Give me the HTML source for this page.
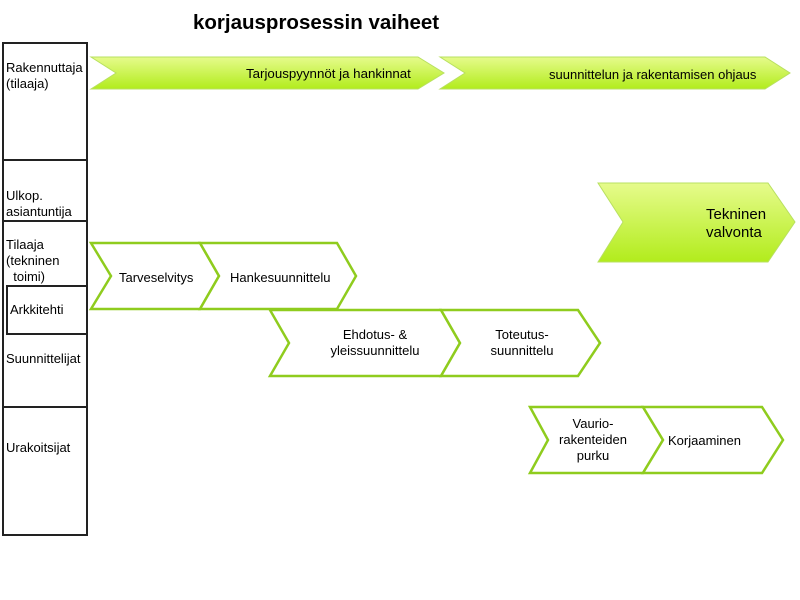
<!DOCTYPE html>
<html><head><style>
body{margin:0;width:800px;height:600px;background:#fff;position:relative;font-family:"Liberation Sans",sans-serif;overflow:hidden}
.t{position:absolute;font-size:13px;color:#000;line-height:16px}
</style></head><body>
<svg width="800" height="600" style="position:absolute;left:0;top:0">
<defs><linearGradient id="g" x1="0" y1="0" x2="0" y2="1"><stop offset="0" stop-color="#e6fb8c"/><stop offset="1" stop-color="#b2ec1c"/></linearGradient></defs>
<g fill="none" stroke="#222" stroke-width="2">
<rect x="3" y="43" width="84" height="492"/>
<line x1="3" y1="160" x2="87" y2="160"/>
<line x1="3" y1="221" x2="87" y2="221"/>
<line x1="3" y1="407" x2="87" y2="407"/>
<rect x="7" y="286" width="80" height="48"/>
</g>
<g fill="url(#g)" stroke="#b8e060" stroke-width="1">
<polygon points="91,57 418,57 444,73 418,89 91,89 116,73"/>
<polygon points="440,57 765,57 790,73 765,89 440,89 465,73"/>
<polygon points="598,183 768,183 795,222 768,262 598,262 623,222"/>
</g>
<g fill="#fff" stroke="#8fcc1e" stroke-width="2.5" stroke-linejoin="miter">
<polygon points="91,243 200,243 219,276 200,309 91,309 111,276"/>
<polygon points="200,243 337,243 356,276 337,309 200,309 219,276"/>
<polygon points="270,310 441,310 460,343 441,376 270,376 289,343"/>
<polygon points="441,310 578,310 600,343 578,376 441,376 460,343"/>
<polygon points="530,407 643,407 663,440 643,473 530,473 548,440"/>
<polygon points="643,407 762,407 783,440 762,473 643,473 663,440"/>
</g>
</svg>
<div class="t" style="left:193px;top:11px;font-size:20.5px;font-weight:bold;line-height:24px">korjausprosessin vaiheet</div>
<div class="t" style="left:6px;top:60px">Rakennuttaja<br>(tilaaja)</div>
<div class="t" style="left:6px;top:188px">Ulkop.<br>asiantuntija</div>
<div class="t" style="left:6px;top:237px">Tilaaja<br>(tekninen<br>&nbsp;&nbsp;toimi)</div>
<div class="t" style="left:10px;top:302px">Arkkitehti</div>
<div class="t" style="left:6px;top:351px">Suunnittelijat</div>
<div class="t" style="left:6px;top:440px">Urakoitsijat</div>
<div class="t" style="left:246px;top:66px;font-size:13.3px">Tarjouspyynnöt ja hankinnat</div>
<div class="t" style="left:549px;top:67px">suunnittelun ja rakentamisen ohjaus</div>
<div class="t" style="left:706px;top:206px;font-size:15px;line-height:18px">Tekninen<br>valvonta</div>
<div class="t" style="left:119px;top:270px">Tarveselvitys</div>
<div class="t" style="left:230px;top:270px">Hankesuunnittelu</div>
<div class="t" style="left:290px;top:327px;width:170px;text-align:center">Ehdotus- &amp;<br>yleissuunnittelu</div>
<div class="t" style="left:472px;top:327px;width:100px;text-align:center">Toteutus-<br>suunnittelu</div>
<div class="t" style="left:553px;top:416px;width:80px;text-align:center">Vaurio-<br>rakenteiden<br>purku</div>
<div class="t" style="left:668px;top:433px">Korjaaminen</div>
</body></html>
